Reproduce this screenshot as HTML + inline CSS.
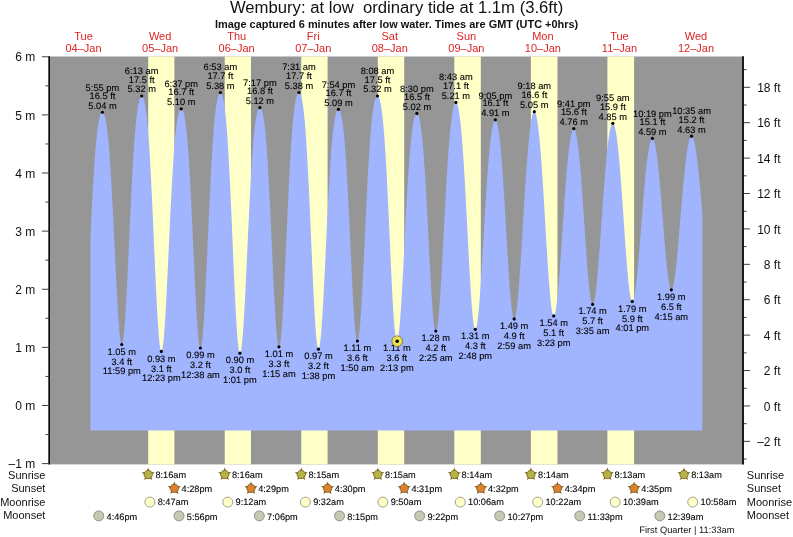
<!DOCTYPE html>
<html><head><meta charset="utf-8"><title>Wembury tide chart</title>
<style>
html,body{margin:0;padding:0;background:#fff;}
body{width:793px;height:537px;overflow:hidden;}
svg{display:block;will-change:transform;}
text{font-family:"Liberation Sans",Arial,Helvetica,sans-serif;fill:#111;}
.title{font-size:16px;white-space:pre;}
.sub{font-size:10px;font-weight:bold;}
.day{font-size:11px;fill:#dd2222;}
.ax{font-size:12px;}
.tl{font-size:9.3px;fill:#000;text-rendering:geometricPrecision;stroke:#000;stroke-width:0.1px;}
.ev{font-size:9.2px;fill:#000;text-rendering:geometricPrecision;stroke:#000;stroke-width:0.1px;}
.rl{font-size:11px;}
.fq{font-size:9.3px;text-rendering:geometricPrecision;}
</style></head><body>
<svg width="793" height="537" viewBox="0 0 793 537" xml:space="preserve">
<rect width="793" height="537" fill="#fff"/>
<rect x="49.5" y="56.5" width="693.0" height="407.9" fill="#969696"/>
<rect x="148.20" y="56.5" width="26.16" height="407.9" fill="#ffffc8"/>
<rect x="224.76" y="56.5" width="26.21" height="407.9" fill="#ffffc8"/>
<rect x="301.27" y="56.5" width="26.32" height="407.9" fill="#ffffc8"/>
<rect x="377.83" y="56.5" width="26.37" height="407.9" fill="#ffffc8"/>
<rect x="454.33" y="56.5" width="26.48" height="407.9" fill="#ffffc8"/>
<rect x="530.89" y="56.5" width="26.58" height="407.9" fill="#ffffc8"/>
<rect x="607.40" y="56.5" width="26.69" height="407.9" fill="#ffffc8"/>
<path d="M90.40,430.60 L90.40,236.96 L90.66,231.71 L90.91,226.50 L91.17,221.33 L91.42,216.23 L91.68,211.20 L91.93,206.26 L92.19,201.40 L92.44,196.64 L92.69,191.99 L92.95,187.45 L93.21,183.03 L93.46,178.74 L93.72,174.58 L93.97,170.55 L94.23,166.67 L94.48,162.92 L94.73,159.32 L94.99,155.87 L95.25,152.56 L95.50,149.41 L95.75,146.39 L96.01,143.53 L96.27,140.81 L96.52,138.24 L96.78,135.81 L97.03,133.52 L97.28,131.37 L97.54,129.35 L97.80,127.46 L98.05,125.71 L98.31,124.08 L98.56,122.57 L98.81,121.17 L99.07,119.90 L99.32,118.73 L99.58,117.67 L99.84,116.71 L100.09,115.86 L100.34,115.10 L100.60,114.44 L100.86,113.87 L101.11,113.39 L101.37,112.99 L101.62,112.69 L101.88,112.46 L102.13,112.33 L102.39,112.27 L102.64,112.30 L102.89,112.42 L103.15,112.63 L103.41,112.92 L103.66,113.31 L103.91,113.79 L104.17,114.36 L104.43,115.03 L104.68,115.80 L104.94,116.68 L105.19,117.65 L105.44,118.74 L105.70,119.95 L105.95,121.27 L106.21,122.71 L106.47,124.28 L106.72,125.97 L106.97,127.80 L107.23,129.77 L107.49,131.87 L107.74,134.12 L108.00,136.52 L108.25,139.06 L108.50,141.76 L108.76,144.61 L109.02,147.61 L109.27,150.77 L109.53,154.09 L109.78,157.56 L110.03,161.18 L110.29,164.96 L110.54,168.89 L110.80,172.97 L111.06,177.19 L111.31,181.54 L111.56,186.03 L111.82,190.65 L112.07,195.39 L112.33,200.24 L112.59,205.19 L112.84,210.24 L113.09,215.37 L113.35,220.58 L113.60,225.85 L113.86,231.17 L114.12,236.52 L114.37,241.90 L114.62,247.29 L114.88,252.68 L115.13,258.05 L115.39,263.39 L115.65,268.68 L115.90,273.91 L116.16,279.06 L116.41,284.11 L116.66,289.06 L116.92,293.88 L117.18,298.56 L117.43,303.09 L117.69,307.45 L117.94,311.62 L118.19,315.60 L118.45,319.37 L118.70,322.91 L118.96,326.22 L119.22,329.29 L119.47,332.09 L119.72,334.63 L119.98,336.90 L120.23,338.88 L120.49,340.57 L120.75,341.96 L121.00,343.05 L121.25,343.84 L121.51,344.32 L121.76,344.49 L122.02,344.35 L122.28,343.89 L122.53,343.12 L122.78,342.04 L123.04,340.66 L123.30,338.97 L123.55,336.99 L123.81,334.71 L124.06,332.16 L124.31,329.33 L124.57,326.24 L124.83,322.89 L125.08,319.30 L125.33,315.48 L125.59,311.44 L125.84,307.20 L126.10,302.76 L126.35,298.14 L126.61,293.35 L126.87,288.42 L127.12,283.35 L127.38,278.15 L127.63,272.86 L127.88,267.47 L128.14,262.01 L128.40,256.48 L128.65,250.92 L128.91,245.32 L129.16,239.71 L129.41,234.09 L129.67,228.49 L129.92,222.91 L130.18,217.37 L130.44,211.89 L130.69,206.46 L130.94,201.12 L131.20,195.85 L131.45,190.68 L131.71,185.62 L131.97,180.67 L132.22,175.83 L132.47,171.13 L132.73,166.56 L132.99,162.13 L133.24,157.84 L133.50,153.70 L133.75,149.71 L134.00,145.88 L134.26,142.20 L134.52,138.68 L134.77,135.31 L135.03,132.11 L135.28,129.06 L135.53,126.17 L135.79,123.43 L136.05,120.85 L136.30,118.41 L136.56,116.13 L136.81,113.98 L137.07,111.98 L137.32,110.12 L137.57,108.39 L137.83,106.79 L138.09,105.31 L138.34,103.96 L138.59,102.73 L138.85,101.61 L139.10,100.60 L139.36,99.70 L139.61,98.90 L139.87,98.21 L140.12,97.61 L140.38,97.11 L140.63,96.70 L140.89,96.38 L141.14,96.16 L141.40,96.02 L141.66,95.98 L141.91,96.02 L142.16,96.16 L142.42,96.39 L142.67,96.72 L142.93,97.14 L143.19,97.66 L143.44,98.29 L143.69,99.01 L143.95,99.85 L144.21,100.79 L144.46,101.84 L144.72,103.02 L144.97,104.31 L145.22,105.73 L145.48,107.27 L145.74,108.95 L145.99,110.77 L146.25,112.72 L146.50,114.83 L146.75,117.08 L147.01,119.48 L147.27,122.04 L147.52,124.75 L147.78,127.63 L148.03,130.67 L148.28,133.88 L148.54,137.25 L148.79,140.78 L149.05,144.48 L149.31,148.35 L149.56,152.38 L149.81,156.57 L150.07,160.92 L150.33,165.42 L150.58,170.08 L150.83,174.87 L151.09,179.81 L151.34,184.88 L151.60,190.07 L151.85,195.37 L152.11,200.78 L152.36,206.29 L152.62,211.88 L152.88,217.55 L153.13,223.27 L153.38,229.05 L153.64,234.86 L153.90,240.69 L154.15,246.52 L154.41,252.35 L154.66,258.15 L154.91,263.92 L155.17,269.63 L155.43,275.26 L155.68,280.81 L155.94,286.26 L156.19,291.59 L156.44,296.78 L156.70,301.82 L156.95,306.69 L157.21,311.38 L157.47,315.87 L157.72,320.15 L157.98,324.20 L158.23,328.02 L158.49,331.59 L158.74,334.89 L159.00,337.91 L159.25,340.66 L159.50,343.11 L159.76,345.26 L160.02,347.09 L160.27,348.62 L160.52,349.82 L160.78,350.70 L161.03,351.25 L161.29,351.47 L161.54,351.37 L161.80,350.96 L162.05,350.24 L162.31,349.23 L162.56,347.91 L162.82,346.30 L163.07,344.40 L163.33,342.21 L163.59,339.75 L163.84,337.02 L164.09,334.03 L164.35,330.79 L164.60,327.32 L164.86,323.61 L165.12,319.69 L165.37,315.57 L165.62,311.25 L165.88,306.76 L166.13,302.11 L166.39,297.31 L166.65,292.37 L166.90,287.31 L167.16,282.15 L167.41,276.90 L167.67,271.57 L167.92,266.19 L168.17,260.75 L168.43,255.29 L168.69,249.81 L168.94,244.33 L169.19,238.85 L169.45,233.40 L169.70,227.99 L169.96,222.63 L170.22,217.32 L170.47,212.09 L170.72,206.94 L170.98,201.88 L171.24,196.92 L171.49,192.07 L171.75,187.33 L172.00,182.72 L172.25,178.24 L172.51,173.90 L172.76,169.70 L173.02,165.63 L173.28,161.72 L173.53,157.96 L173.78,154.35 L174.04,150.89 L174.30,147.59 L174.55,144.44 L174.81,141.44 L175.06,138.60 L175.31,135.91 L175.57,133.37 L175.83,130.97 L176.08,128.72 L176.34,126.61 L176.59,124.64 L176.84,122.81 L177.10,121.10 L177.36,119.52 L177.61,118.07 L177.87,116.73 L178.12,115.51 L178.38,114.41 L178.63,113.41 L178.88,112.52 L179.14,111.73 L179.40,111.03 L179.65,110.44 L179.91,109.94 L180.16,109.53 L180.41,109.21 L180.67,108.98 L180.93,108.84 L181.18,108.78 L181.44,108.81 L181.69,108.94 L181.95,109.15 L182.20,109.47 L182.46,109.87 L182.71,110.37 L182.97,110.97 L183.22,111.68 L183.47,112.49 L183.73,113.40 L183.98,114.43 L184.24,115.57 L184.50,116.84 L184.75,118.22 L185.00,119.73 L185.26,121.38 L185.52,123.16 L185.77,125.08 L186.03,127.15 L186.28,129.36 L186.53,131.72 L186.79,134.24 L187.04,136.91 L187.30,139.74 L187.56,142.74 L187.81,145.89 L188.06,149.21 L188.32,152.69 L188.58,156.34 L188.83,160.14 L189.09,164.11 L189.34,168.23 L189.59,172.51 L189.85,176.93 L190.10,181.50 L190.36,186.20 L190.62,191.04 L190.87,196.00 L191.12,201.07 L191.38,206.25 L191.64,211.52 L191.89,216.88 L192.15,222.31 L192.40,227.81 L192.66,233.35 L192.91,238.92 L193.16,244.51 L193.42,250.11 L193.67,255.70 L193.93,261.27 L194.19,266.79 L194.44,272.26 L194.69,277.66 L194.95,282.96 L195.21,288.16 L195.46,293.24 L195.72,298.18 L195.97,302.97 L196.22,307.59 L196.48,312.02 L196.74,316.26 L196.99,320.28 L197.25,324.07 L197.50,327.62 L197.75,330.92 L198.01,333.96 L198.26,336.72 L198.52,339.20 L198.78,341.38 L199.03,343.26 L199.28,344.84 L199.54,346.10 L199.80,347.04 L200.05,347.66 L200.30,347.95 L200.56,347.93 L200.82,347.58 L201.07,346.91 L201.32,345.92 L201.58,344.62 L201.84,343.00 L202.09,341.09 L202.34,338.87 L202.60,336.36 L202.86,333.57 L203.11,330.50 L203.36,327.18 L203.62,323.59 L203.88,319.77 L204.13,315.72 L204.38,311.45 L204.64,306.97 L204.90,302.31 L205.15,297.47 L205.41,292.48 L205.66,287.33 L205.91,282.06 L206.17,276.67 L206.43,271.19 L206.68,265.62 L206.94,259.98 L207.19,254.29 L207.44,248.56 L207.70,242.81 L207.95,237.05 L208.21,231.30 L208.47,225.57 L208.72,219.87 L208.98,214.22 L209.23,208.63 L209.49,203.11 L209.74,197.67 L209.99,192.32 L210.25,187.08 L210.51,181.94 L210.76,176.93 L211.01,172.04 L211.27,167.29 L211.53,162.68 L211.78,158.21 L212.03,153.89 L212.29,149.72 L212.55,145.71 L212.80,141.86 L213.05,138.17 L213.31,134.64 L213.56,131.27 L213.82,128.07 L214.07,125.02 L214.33,122.13 L214.59,119.40 L214.84,116.83 L215.09,114.41 L215.35,112.13 L215.60,110.00 L215.86,108.02 L216.12,106.17 L216.37,104.46 L216.62,102.88 L216.88,101.43 L217.13,100.10 L217.39,98.89 L217.65,97.79 L217.90,96.81 L218.16,95.93 L218.41,95.16 L218.67,94.49 L218.92,93.92 L219.18,93.45 L219.43,93.07 L219.68,92.79 L219.94,92.60 L220.20,92.50 L220.45,92.49 L220.71,92.58 L220.96,92.76 L221.22,93.04 L221.47,93.42 L221.73,93.90 L221.98,94.49 L222.24,95.17 L222.49,95.97 L222.74,96.88 L223.00,97.90 L223.26,99.04 L223.51,100.30 L223.76,101.69 L224.02,103.21 L224.27,104.87 L224.53,106.66 L224.78,108.60 L225.04,110.68 L225.29,112.92 L225.55,115.31 L225.81,117.86 L226.06,120.58 L226.32,123.45 L226.57,126.50 L226.82,129.71 L227.08,133.09 L227.34,136.65 L227.59,140.38 L227.84,144.27 L228.10,148.34 L228.35,152.57 L228.61,156.97 L228.87,161.53 L229.12,166.24 L229.38,171.11 L229.63,176.12 L229.89,181.27 L230.14,186.55 L230.40,191.95 L230.65,197.46 L230.91,203.08 L231.16,208.79 L231.41,214.58 L231.67,220.43 L231.93,226.34 L232.18,232.29 L232.43,238.27 L232.69,244.26 L232.95,250.24 L233.20,256.21 L233.45,262.13 L233.71,268.01 L233.96,273.82 L234.22,279.54 L234.47,285.16 L234.73,290.66 L234.99,296.02 L235.24,301.23 L235.50,306.28 L235.75,311.14 L236.01,315.80 L236.26,320.24 L236.51,324.46 L236.77,328.43 L237.03,332.15 L237.28,335.59 L237.53,338.76 L237.79,341.64 L238.04,344.21 L238.30,346.48 L238.56,348.42 L238.81,350.05 L239.06,351.34 L239.32,352.30 L239.58,352.92 L239.83,353.20 L240.09,353.15 L240.34,352.79 L240.59,352.12 L240.85,351.15 L241.10,349.88 L241.36,348.31 L241.62,346.45 L241.87,344.31 L242.12,341.89 L242.38,339.19 L242.64,336.24 L242.89,333.03 L243.14,329.59 L243.40,325.91 L243.66,322.01 L243.91,317.91 L244.16,313.61 L244.42,309.13 L244.68,304.49 L244.93,299.69 L245.19,294.76 L245.44,289.70 L245.70,284.53 L245.95,279.27 L246.20,273.93 L246.46,268.52 L246.71,263.07 L246.97,257.57 L247.22,252.06 L247.48,246.54 L247.73,241.03 L247.99,235.53 L248.25,230.07 L248.50,224.65 L248.76,219.29 L249.01,214.00 L249.27,208.78 L249.52,203.65 L249.78,198.62 L250.03,193.70 L250.28,188.89 L250.54,184.20 L250.79,179.64 L251.05,175.22 L251.31,170.93 L251.56,166.78 L251.81,162.78 L252.07,158.93 L252.33,155.24 L252.58,151.69 L252.83,148.30 L253.09,145.06 L253.35,141.98 L253.60,139.05 L253.85,136.28 L254.11,133.65 L254.37,131.17 L254.62,128.84 L254.87,126.65 L255.13,124.60 L255.39,122.69 L255.64,120.91 L255.89,119.26 L256.15,117.73 L256.40,116.33 L256.66,115.04 L256.91,113.87 L257.17,112.81 L257.43,111.86 L257.68,111.01 L257.94,110.26 L258.19,109.61 L258.44,109.05 L258.70,108.59 L258.95,108.22 L259.21,107.94 L259.47,107.74 L259.72,107.64 L259.97,107.62 L260.23,107.69 L260.48,107.86 L260.74,108.12 L261.00,108.48 L261.25,108.93 L261.50,109.48 L261.76,110.14 L262.01,110.90 L262.27,111.77 L262.52,112.75 L262.78,113.84 L263.04,115.06 L263.29,116.40 L263.54,117.87 L263.80,119.46 L264.06,121.20 L264.31,123.07 L264.56,125.09 L264.82,127.26 L265.07,129.58 L265.33,132.06 L265.58,134.69 L265.84,137.48 L266.10,140.44 L266.35,143.56 L266.60,146.85 L266.86,150.31 L267.12,153.92 L267.37,157.71 L267.62,161.65 L267.88,165.76 L268.13,170.02 L268.39,174.44 L268.64,179.00 L268.90,183.71 L269.16,188.55 L269.41,193.52 L269.66,198.61 L269.92,203.80 L270.17,209.10 L270.43,214.48 L270.69,219.94 L270.94,225.47 L271.19,231.05 L271.45,236.66 L271.70,242.30 L271.96,247.95 L272.22,253.59 L272.47,259.21 L272.72,264.78 L272.98,270.31 L273.23,275.76 L273.49,281.12 L273.75,286.38 L274.00,291.52 L274.25,296.52 L274.51,301.36 L274.76,306.03 L275.02,310.52 L275.27,314.80 L275.53,318.87 L275.79,322.71 L276.04,326.31 L276.29,329.64 L276.55,332.71 L276.81,335.51 L277.06,338.01 L277.31,340.21 L277.57,342.11 L277.82,343.69 L278.08,344.96 L278.33,345.90 L278.59,346.51 L278.84,346.80 L279.10,346.75 L279.35,346.39 L279.61,345.71 L279.86,344.72 L280.12,343.41 L280.38,341.80 L280.63,339.89 L280.88,337.68 L281.14,335.18 L281.39,332.40 L281.65,329.35 L281.91,326.04 L282.16,322.48 L282.41,318.68 L282.67,314.65 L282.92,310.41 L283.18,305.97 L283.44,301.34 L283.69,296.54 L283.94,291.57 L284.20,286.47 L284.45,281.23 L284.71,275.89 L284.96,270.44 L285.22,264.91 L285.48,259.32 L285.73,253.67 L285.98,247.98 L286.24,242.27 L286.50,236.56 L286.75,230.85 L287.00,225.15 L287.26,219.50 L287.51,213.88 L287.77,208.33 L288.02,202.85 L288.28,197.44 L288.53,192.13 L288.79,186.92 L289.04,181.81 L289.30,176.83 L289.56,171.97 L289.81,167.24 L290.06,162.65 L290.32,158.21 L290.57,153.91 L290.83,149.76 L291.08,145.77 L291.34,141.93 L291.60,138.26 L291.85,134.74 L292.10,131.38 L292.36,128.18 L292.61,125.15 L292.87,122.26 L293.12,119.54 L293.38,116.97 L293.63,114.55 L293.89,112.27 L294.14,110.15 L294.40,108.16 L294.65,106.31 L294.91,104.60 L295.17,103.01 L295.42,101.56 L295.67,100.22 L295.93,99.00 L296.19,97.90 L296.44,96.91 L296.69,96.03 L296.95,95.25 L297.20,94.57 L297.46,93.99 L297.71,93.51 L297.97,93.12 L298.23,92.83 L298.48,92.62 L298.73,92.51 L298.99,92.49 L299.25,92.56 L299.50,92.72 L299.75,92.99 L300.01,93.35 L300.26,93.81 L300.52,94.37 L300.77,95.03 L301.03,95.80 L301.29,96.68 L301.54,97.68 L301.79,98.79 L302.05,100.02 L302.30,101.37 L302.56,102.86 L302.81,104.48 L303.07,106.23 L303.32,108.13 L303.58,110.17 L303.83,112.36 L304.09,114.70 L304.34,117.21 L304.60,119.87 L304.85,122.69 L305.11,125.68 L305.36,128.84 L305.62,132.17 L305.88,135.66 L306.13,139.32 L306.38,143.16 L306.64,147.16 L306.89,151.32 L307.15,155.65 L307.40,160.14 L307.66,164.78 L307.91,169.58 L308.17,174.51 L308.42,179.59 L308.68,184.79 L308.94,190.12 L309.19,195.56 L309.44,201.10 L309.70,206.73 L309.95,212.44 L310.21,218.22 L310.46,224.05 L310.72,229.92 L310.97,235.82 L311.23,241.73 L311.48,247.64 L311.74,253.52 L311.99,259.37 L312.25,265.18 L312.50,270.91 L312.76,276.56 L313.01,282.10 L313.27,287.53 L313.52,292.83 L313.78,297.98 L314.04,302.95 L314.29,307.75 L314.54,312.35 L314.80,316.73 L315.05,320.89 L315.31,324.81 L315.56,328.47 L315.82,331.87 L316.07,334.99 L316.33,337.82 L316.58,340.35 L316.84,342.58 L317.09,344.49 L317.35,346.08 L317.60,347.34 L317.86,348.27 L318.11,348.87 L318.37,349.13 L318.62,349.07 L318.88,348.70 L319.13,348.03 L319.39,347.07 L319.64,345.82 L319.90,344.27 L320.15,342.44 L320.41,340.33 L320.66,337.95 L320.92,335.31 L321.17,332.42 L321.43,329.27 L321.68,325.90 L321.94,322.30 L322.19,318.48 L322.45,314.46 L322.70,310.26 L322.96,305.88 L323.21,301.34 L323.47,296.65 L323.73,291.82 L323.98,286.88 L324.23,281.83 L324.49,276.69 L324.74,271.47 L325.00,266.19 L325.25,260.86 L325.51,255.50 L325.76,250.11 L326.02,244.72 L326.27,239.34 L326.53,233.98 L326.78,228.65 L327.04,223.36 L327.29,218.13 L327.55,212.96 L327.80,207.88 L328.06,202.88 L328.31,197.97 L328.57,193.17 L328.82,188.48 L329.08,183.91 L329.33,179.46 L329.59,175.15 L329.84,170.97 L330.10,166.93 L330.35,163.03 L330.61,159.28 L330.86,155.68 L331.12,152.22 L331.38,148.92 L331.63,145.77 L331.88,142.77 L332.14,139.91 L332.39,137.21 L332.65,134.65 L332.90,132.24 L333.16,129.97 L333.42,127.84 L333.67,125.85 L333.92,123.99 L334.18,122.25 L334.43,120.65 L334.69,119.17 L334.94,117.80 L335.20,116.55 L335.45,115.41 L335.71,114.38 L335.96,113.46 L336.22,112.63 L336.47,111.91 L336.73,111.28 L336.98,110.74 L337.24,110.29 L337.49,109.94 L337.75,109.66 L338.00,109.48 L338.26,109.38 L338.51,109.37 L338.77,109.44 L339.02,109.61 L339.28,109.87 L339.53,110.22 L339.79,110.67 L340.05,111.22 L340.30,111.87 L340.55,112.62 L340.81,113.48 L341.06,114.44 L341.32,115.52 L341.57,116.72 L341.83,118.04 L342.08,119.48 L342.34,121.06 L342.59,122.76 L342.85,124.61 L343.10,126.60 L343.36,128.73 L343.61,131.02 L343.87,133.45 L344.12,136.04 L344.38,138.79 L344.63,141.70 L344.89,144.77 L345.14,148.01 L345.40,151.40 L345.65,154.96 L345.91,158.68 L346.17,162.56 L346.42,166.59 L346.67,170.78 L346.93,175.11 L347.18,179.59 L347.44,184.20 L347.69,188.95 L347.95,193.82 L348.20,198.80 L348.46,203.89 L348.71,209.07 L348.97,214.34 L349.22,219.67 L349.48,225.07 L349.73,230.51 L349.99,235.99 L350.24,241.49 L350.50,246.98 L350.75,252.47 L351.01,257.93 L351.26,263.35 L351.52,268.70 L351.77,273.99 L352.03,279.18 L352.28,284.26 L352.54,289.21 L352.79,294.03 L353.05,298.68 L353.30,303.17 L353.56,307.46 L353.81,311.56 L354.07,315.43 L354.32,319.08 L354.58,322.48 L354.83,325.62 L355.09,328.50 L355.34,331.10 L355.60,333.42 L355.85,335.43 L356.11,337.15 L356.36,338.55 L356.62,339.64 L356.88,340.42 L357.13,340.87 L357.38,341.00 L357.64,340.81 L357.89,340.33 L358.15,339.54 L358.40,338.45 L358.66,337.07 L358.91,335.40 L359.17,333.44 L359.42,331.20 L359.68,328.69 L359.93,325.92 L360.19,322.90 L360.44,319.63 L360.70,316.12 L360.95,312.39 L361.21,308.45 L361.46,304.31 L361.72,299.98 L361.97,295.48 L362.23,290.82 L362.48,286.02 L362.74,281.08 L362.99,276.02 L363.25,270.86 L363.50,265.62 L363.76,260.29 L364.01,254.91 L364.27,249.49 L364.52,244.03 L364.78,238.55 L365.03,233.08 L365.29,227.61 L365.54,222.16 L365.80,216.75 L366.05,211.39 L366.31,206.09 L366.56,200.85 L366.82,195.69 L367.07,190.63 L367.33,185.66 L367.58,180.80 L367.84,176.05 L368.09,171.43 L368.35,166.93 L368.60,162.56 L368.86,158.33 L369.11,154.25 L369.37,150.30 L369.62,146.51 L369.88,142.87 L370.13,139.38 L370.39,136.04 L370.64,132.85 L370.90,129.81 L371.15,126.93 L371.41,124.19 L371.66,121.61 L371.92,119.17 L372.18,116.87 L372.43,114.72 L372.68,112.70 L372.94,110.81 L373.19,109.06 L373.45,107.44 L373.70,105.93 L373.96,104.55 L374.21,103.29 L374.47,102.13 L374.72,101.09 L374.98,100.15 L375.23,99.31 L375.49,98.58 L375.74,97.93 L376.00,97.39 L376.25,96.93 L376.51,96.57 L376.76,96.29 L377.02,96.10 L377.27,96.00 L377.53,95.98 L377.78,96.05 L378.04,96.22 L378.29,96.48 L378.55,96.83 L378.80,97.28 L379.06,97.82 L379.31,98.47 L379.57,99.22 L379.82,100.08 L380.08,101.04 L380.33,102.12 L380.59,103.31 L380.84,104.63 L381.10,106.07 L381.35,107.64 L381.61,109.34 L381.87,111.18 L382.12,113.16 L382.37,115.29 L382.63,117.56 L382.88,119.99 L383.14,122.57 L383.39,125.31 L383.65,128.21 L383.90,131.27 L384.16,134.49 L384.41,137.88 L384.67,141.43 L384.92,145.14 L385.18,149.02 L385.43,153.05 L385.69,157.24 L385.94,161.58 L386.20,166.07 L386.45,170.71 L386.71,175.48 L386.96,180.39 L387.22,185.41 L387.47,190.55 L387.73,195.80 L387.98,201.14 L388.24,206.57 L388.49,212.07 L388.75,217.63 L389.00,223.24 L389.26,228.89 L389.51,234.56 L389.77,240.23 L390.02,245.89 L390.28,251.54 L390.53,257.14 L390.79,262.69 L391.04,268.16 L391.30,273.55 L391.56,278.84 L391.81,284.01 L392.06,289.04 L392.32,293.92 L392.57,298.64 L392.83,303.17 L393.08,307.51 L393.34,311.64 L393.59,315.54 L393.85,319.20 L394.10,322.62 L394.36,325.77 L394.61,328.65 L394.87,331.25 L395.12,333.55 L395.38,335.56 L395.63,337.26 L395.89,338.65 L396.14,339.72 L396.40,340.47 L396.65,340.89 L396.91,340.99 L397.17,340.80 L397.42,340.34 L397.67,339.60 L397.93,338.59 L398.18,337.31 L398.44,335.77 L398.69,333.97 L398.95,331.92 L399.20,329.62 L399.46,327.09 L399.72,324.32 L399.97,321.33 L400.22,318.12 L400.48,314.72 L400.73,311.12 L400.99,307.34 L401.25,303.38 L401.50,299.27 L401.75,295.01 L402.01,290.62 L402.26,286.11 L402.52,281.49 L402.77,276.77 L403.03,271.97 L403.28,267.09 L403.54,262.17 L403.79,257.19 L404.05,252.19 L404.31,247.17 L404.56,242.14 L404.81,237.11 L405.07,232.10 L405.32,227.12 L405.58,222.18 L405.83,217.29 L406.09,212.46 L406.34,207.69 L406.60,203.00 L406.86,198.40 L407.11,193.89 L407.37,189.48 L407.62,185.18 L407.87,180.98 L408.13,176.91 L408.38,172.96 L408.64,169.13 L408.89,165.43 L409.15,161.86 L409.41,158.43 L409.66,155.14 L409.91,151.98 L410.17,148.96 L410.42,146.07 L410.68,143.33 L410.94,140.72 L411.19,138.24 L411.44,135.90 L411.70,133.70 L411.95,131.62 L412.21,129.67 L412.46,127.84 L412.72,126.14 L412.97,124.56 L413.23,123.10 L413.48,121.75 L413.74,120.51 L414.00,119.38 L414.25,118.36 L414.50,117.44 L414.76,116.62 L415.01,115.89 L415.27,115.27 L415.52,114.74 L415.78,114.30 L416.03,113.95 L416.29,113.69 L416.55,113.52 L416.80,113.44 L417.06,113.45 L417.31,113.57 L417.56,113.79 L417.82,114.11 L418.07,114.55 L418.33,115.09 L418.58,115.74 L418.84,116.50 L419.10,117.37 L419.35,118.36 L419.60,119.47 L419.86,120.70 L420.11,122.05 L420.37,123.52 L420.62,125.13 L420.88,126.86 L421.13,128.72 L421.39,130.72 L421.64,132.86 L421.90,135.13 L422.15,137.55 L422.41,140.11 L422.66,142.81 L422.92,145.65 L423.17,148.64 L423.43,151.77 L423.69,155.04 L423.94,158.46 L424.19,162.01 L424.45,165.71 L424.70,169.53 L424.96,173.49 L425.21,177.57 L425.47,181.78 L425.72,186.10 L425.98,190.53 L426.24,195.06 L426.49,199.69 L426.75,204.40 L427.00,209.19 L427.25,214.05 L427.51,218.96 L427.76,223.92 L428.02,228.92 L428.27,233.93 L428.53,238.96 L428.79,243.99 L429.04,249.00 L429.30,253.99 L429.55,258.93 L429.80,263.82 L430.06,268.63 L430.31,273.36 L430.57,278.00 L430.82,282.52 L431.08,286.92 L431.33,291.17 L431.59,295.28 L431.85,299.22 L432.10,302.97 L432.35,306.54 L432.61,309.90 L432.86,313.05 L433.12,315.98 L433.38,318.67 L433.63,321.12 L433.88,323.31 L434.14,325.24 L434.39,326.91 L434.65,328.30 L434.90,329.42 L435.16,330.26 L435.41,330.81 L435.67,331.08 L435.92,331.06 L436.18,330.79 L436.44,330.26 L436.69,329.47 L436.94,328.43 L437.20,327.15 L437.45,325.62 L437.71,323.84 L437.96,321.84 L438.22,319.60 L438.47,317.14 L438.73,314.47 L438.99,311.58 L439.24,308.50 L439.49,305.23 L439.75,301.77 L440.00,298.14 L440.26,294.35 L440.51,290.41 L440.77,286.33 L441.02,282.11 L441.28,277.78 L441.54,273.34 L441.79,268.81 L442.04,264.19 L442.30,259.50 L442.55,254.75 L442.81,249.94 L443.06,245.10 L443.32,240.23 L443.57,235.35 L443.83,230.46 L444.08,225.57 L444.34,220.70 L444.59,215.86 L444.85,211.05 L445.10,206.28 L445.36,201.57 L445.61,196.92 L445.87,192.33 L446.12,187.83 L446.38,183.40 L446.64,179.07 L446.89,174.83 L447.14,170.69 L447.40,166.66 L447.65,162.74 L447.91,158.94 L448.16,155.25 L448.42,151.68 L448.68,148.24 L448.93,144.92 L449.19,141.73 L449.44,138.66 L449.69,135.73 L449.95,132.92 L450.20,130.25 L450.46,127.71 L450.71,125.29 L450.97,123.01 L451.23,120.85 L451.48,118.82 L451.73,116.91 L451.99,115.13 L452.24,113.48 L452.50,111.94 L452.75,110.52 L453.01,109.23 L453.26,108.05 L453.52,106.98 L453.77,106.03 L454.03,105.19 L454.28,104.46 L454.54,103.85 L454.79,103.34 L455.05,102.94 L455.30,102.65 L455.56,102.46 L455.81,102.38 L456.07,102.41 L456.32,102.57 L456.58,102.85 L456.83,103.25 L457.09,103.78 L457.34,104.43 L457.60,105.21 L457.85,106.11 L458.11,107.15 L458.37,108.31 L458.62,109.60 L458.88,111.02 L459.13,112.57 L459.38,114.26 L459.64,116.07 L459.89,118.03 L460.15,120.11 L460.40,122.34 L460.66,124.70 L460.92,127.20 L461.17,129.83 L461.43,132.60 L461.68,135.51 L461.93,138.55 L462.19,141.72 L462.44,145.03 L462.70,148.47 L462.95,152.04 L463.21,155.73 L463.46,159.55 L463.72,163.49 L463.98,167.54 L464.23,171.70 L464.48,175.97 L464.74,180.33 L464.99,184.79 L465.25,189.34 L465.50,193.97 L465.76,198.67 L466.01,203.43 L466.27,208.25 L466.52,213.11 L466.78,218.02 L467.03,222.95 L467.29,227.90 L467.54,232.85 L467.80,237.80 L468.05,242.73 L468.31,247.64 L468.56,252.51 L468.82,257.33 L469.07,262.09 L469.33,266.77 L469.58,271.37 L469.84,275.87 L470.09,280.26 L470.35,284.53 L470.61,288.66 L470.86,292.65 L471.12,296.49 L471.37,300.15 L471.62,303.65 L471.88,306.95 L472.13,310.06 L472.39,312.96 L472.64,315.65 L472.90,318.12 L473.15,320.36 L473.41,322.36 L473.67,324.12 L473.92,325.63 L474.17,326.89 L474.43,327.89 L474.68,328.64 L474.94,329.12 L475.19,329.34 L475.45,329.31 L475.70,329.05 L475.96,328.58 L476.21,327.89 L476.47,326.98 L476.72,325.85 L476.98,324.52 L477.23,322.98 L477.49,321.23 L477.74,319.29 L478.00,317.15 L478.25,314.83 L478.51,312.33 L478.77,309.65 L479.02,306.80 L479.27,303.79 L479.53,300.64 L479.78,297.33 L480.04,293.89 L480.30,290.33 L480.55,286.64 L480.81,282.85 L481.06,278.96 L481.31,274.97 L481.57,270.91 L481.82,266.77 L482.08,262.57 L482.33,258.32 L482.59,254.03 L482.84,249.70 L483.10,245.34 L483.36,240.97 L483.61,236.60 L483.86,232.22 L484.12,227.86 L484.37,223.51 L484.63,219.19 L484.88,214.91 L485.14,210.67 L485.39,206.47 L485.65,202.33 L485.90,198.26 L486.16,194.25 L486.41,190.31 L486.67,186.46 L486.92,182.68 L487.18,179.00 L487.43,175.41 L487.69,171.91 L487.94,168.52 L488.20,165.23 L488.46,162.04 L488.71,158.96 L488.96,156.00 L489.22,153.14 L489.47,150.40 L489.73,147.78 L489.99,145.27 L490.24,142.88 L490.50,140.61 L490.75,138.46 L491.00,136.43 L491.26,134.51 L491.51,132.71 L491.77,131.04 L492.02,129.48 L492.28,128.04 L492.53,126.72 L492.79,125.51 L493.05,124.42 L493.30,123.45 L493.55,122.60 L493.81,121.86 L494.06,121.24 L494.32,120.73 L494.57,120.33 L494.83,120.05 L495.08,119.89 L495.34,119.84 L495.59,119.91 L495.85,120.11 L496.11,120.45 L496.36,120.91 L496.61,121.51 L496.87,122.24 L497.12,123.10 L497.38,124.09 L497.63,125.21 L497.89,126.47 L498.15,127.85 L498.40,129.37 L498.65,131.02 L498.91,132.80 L499.16,134.71 L499.42,136.75 L499.68,138.92 L499.93,141.22 L500.18,143.65 L500.44,146.20 L500.69,148.88 L500.95,151.69 L501.20,154.61 L501.46,157.66 L501.71,160.82 L501.97,164.09 L502.22,167.47 L502.48,170.97 L502.74,174.56 L502.99,178.25 L503.25,182.03 L503.50,185.90 L503.75,189.86 L504.01,193.89 L504.26,197.99 L504.52,202.15 L504.77,206.37 L505.03,210.63 L505.28,214.94 L505.54,219.28 L505.80,223.64 L506.05,228.02 L506.30,232.40 L506.56,236.78 L506.81,241.14 L507.07,245.48 L507.32,249.79 L507.58,254.06 L507.84,258.27 L508.09,262.42 L508.34,266.49 L508.60,270.48 L508.85,274.37 L509.11,278.16 L509.36,281.83 L509.62,285.38 L509.87,288.80 L510.13,292.07 L510.38,295.19 L510.64,298.15 L510.89,300.94 L511.15,303.55 L511.40,305.98 L511.66,308.21 L511.91,310.25 L512.17,312.08 L512.43,313.70 L512.68,315.11 L512.94,316.30 L513.19,317.27 L513.45,318.01 L513.70,318.53 L513.96,318.82 L514.21,318.88 L514.47,318.72 L514.72,318.37 L514.98,317.82 L515.23,317.06 L515.49,316.11 L515.74,314.96 L516.00,313.61 L516.25,312.08 L516.50,310.36 L516.76,308.46 L517.01,306.39 L517.27,304.14 L517.53,301.72 L517.78,299.15 L518.03,296.42 L518.29,293.54 L518.54,290.52 L518.80,287.36 L519.05,284.08 L519.31,280.68 L519.56,277.16 L519.82,273.55 L520.08,269.83 L520.33,266.03 L520.59,262.15 L520.84,258.20 L521.09,254.18 L521.35,250.11 L521.61,245.99 L521.86,241.84 L522.12,237.65 L522.37,233.44 L522.62,229.22 L522.88,224.99 L523.13,220.77 L523.39,216.55 L523.64,212.35 L523.90,208.17 L524.15,204.03 L524.41,199.92 L524.66,195.85 L524.92,191.84 L525.18,187.88 L525.43,183.98 L525.68,180.15 L525.94,176.39 L526.19,172.71 L526.45,169.11 L526.71,165.59 L526.96,162.17 L527.22,158.83 L527.47,155.60 L527.73,152.46 L527.98,149.43 L528.24,146.51 L528.49,143.69 L528.75,140.98 L529.00,138.38 L529.25,135.90 L529.51,133.54 L529.76,131.29 L530.02,129.16 L530.28,127.15 L530.53,125.26 L530.78,123.49 L531.04,121.84 L531.29,120.32 L531.55,118.92 L531.81,117.64 L532.06,116.49 L532.31,115.46 L532.57,114.55 L532.83,113.77 L533.08,113.11 L533.34,112.58 L533.59,112.17 L533.85,111.89 L534.10,111.73 L534.36,111.69 L534.61,111.79 L534.87,112.02 L535.12,112.39 L535.38,112.89 L535.63,113.52 L535.88,114.29 L536.14,115.19 L536.39,116.22 L536.65,117.39 L536.90,118.68 L537.16,120.11 L537.41,121.68 L537.67,123.37 L537.93,125.19 L538.18,127.15 L538.43,129.23 L538.69,131.44 L538.94,133.77 L539.20,136.23 L539.46,138.81 L539.71,141.52 L539.97,144.34 L540.22,147.28 L540.48,150.33 L540.73,153.49 L540.99,156.76 L541.24,160.13 L541.50,163.60 L541.75,167.17 L542.00,170.84 L542.26,174.59 L542.51,178.42 L542.77,182.32 L543.02,186.30 L543.28,190.35 L543.53,194.45 L543.79,198.61 L544.04,202.81 L544.30,207.06 L544.56,211.33 L544.81,215.63 L545.07,219.94 L545.32,224.26 L545.57,228.58 L545.83,232.89 L546.09,237.18 L546.34,241.45 L546.60,245.68 L546.85,249.87 L547.11,254.01 L547.36,258.08 L547.62,262.08 L547.87,266.00 L548.12,269.83 L548.38,273.56 L548.63,277.19 L548.89,280.70 L549.14,284.08 L549.40,287.33 L549.66,290.45 L549.91,293.41 L550.16,296.22 L550.42,298.86 L550.67,301.34 L550.93,303.64 L551.19,305.76 L551.44,307.69 L551.69,309.42 L551.95,310.97 L552.21,312.31 L552.46,313.44 L552.72,314.37 L552.97,315.09 L553.22,315.60 L553.48,315.89 L553.74,315.97 L553.99,315.86 L554.25,315.56 L554.50,315.08 L554.75,314.43 L555.01,313.59 L555.26,312.58 L555.52,311.40 L555.77,310.04 L556.03,308.52 L556.28,306.83 L556.54,304.99 L556.79,302.99 L557.05,300.83 L557.30,298.54 L557.56,296.10 L557.81,293.53 L558.07,290.82 L558.32,288.00 L558.58,285.06 L558.83,282.01 L559.09,278.86 L559.35,275.62 L559.60,272.28 L559.86,268.87 L560.11,265.38 L560.36,261.83 L560.62,258.21 L560.88,254.55 L561.13,250.84 L561.38,247.09 L561.64,243.31 L561.89,239.51 L562.15,235.70 L562.40,231.88 L562.66,228.06 L562.91,224.24 L563.17,220.44 L563.42,216.66 L563.68,212.90 L563.93,209.17 L564.19,205.48 L564.44,201.83 L564.70,198.23 L564.96,194.69 L565.21,191.20 L565.46,187.78 L565.72,184.42 L565.98,181.14 L566.23,177.93 L566.49,174.81 L566.74,171.76 L567.00,168.81 L567.25,165.94 L567.50,163.16 L567.76,160.48 L568.01,157.90 L568.27,155.42 L568.52,153.04 L568.78,150.76 L569.03,148.59 L569.29,146.53 L569.54,144.57 L569.80,142.73 L570.05,140.99 L570.31,139.36 L570.56,137.85 L570.82,136.45 L571.07,135.16 L571.33,133.99 L571.58,132.93 L571.84,131.98 L572.10,131.15 L572.35,130.44 L572.61,129.84 L572.86,129.35 L573.11,128.99 L573.37,128.73 L573.62,128.60 L573.88,128.57 L574.13,128.68 L574.39,128.90 L574.64,129.25 L574.90,129.73 L575.15,130.33 L575.41,131.06 L575.66,131.91 L575.92,132.88 L576.17,133.98 L576.43,135.20 L576.68,136.54 L576.94,138.00 L577.20,139.59 L577.45,141.29 L577.70,143.12 L577.96,145.06 L578.21,147.11 L578.47,149.29 L578.73,151.57 L578.98,153.97 L579.24,156.47 L579.49,159.08 L579.75,161.79 L580.00,164.61 L580.25,167.52 L580.51,170.53 L580.76,173.62 L581.02,176.81 L581.27,180.07 L581.53,183.42 L581.78,186.83 L582.04,190.32 L582.29,193.86 L582.55,197.47 L582.80,201.12 L583.06,204.82 L583.31,208.56 L583.57,212.33 L583.82,216.12 L584.08,219.93 L584.33,223.75 L584.59,227.57 L584.84,231.39 L585.10,235.19 L585.35,238.97 L585.61,242.72 L585.86,246.43 L586.12,250.10 L586.38,253.71 L586.63,257.26 L586.88,260.73 L587.14,264.13 L587.39,267.43 L587.65,270.65 L587.90,273.75 L588.16,276.74 L588.41,279.62 L588.67,282.37 L588.92,284.98 L589.18,287.45 L589.43,289.77 L589.69,291.94 L589.94,293.95 L590.20,295.80 L590.45,297.47 L590.71,298.97 L590.96,300.29 L591.22,301.43 L591.48,302.39 L591.73,303.16 L591.99,303.73 L592.24,304.12 L592.49,304.31 L592.75,304.31 L593.00,304.14 L593.26,303.79 L593.51,303.28 L593.77,302.60 L594.02,301.74 L594.28,300.73 L594.53,299.55 L594.79,298.21 L595.04,296.71 L595.30,295.06 L595.55,293.26 L595.81,291.31 L596.06,289.22 L596.32,287.00 L596.57,284.64 L596.83,282.16 L597.09,279.56 L597.34,276.84 L597.59,274.02 L597.85,271.09 L598.11,268.07 L598.36,264.95 L598.62,261.75 L598.87,258.48 L599.12,255.14 L599.38,251.73 L599.63,248.27 L599.89,244.76 L600.14,241.21 L600.40,237.62 L600.65,234.01 L600.91,230.37 L601.16,226.72 L601.42,223.06 L601.67,219.40 L601.93,215.74 L602.18,212.10 L602.44,208.47 L602.69,204.86 L602.95,201.29 L603.20,197.75 L603.46,194.24 L603.71,190.79 L603.97,187.38 L604.23,184.03 L604.48,180.73 L604.74,177.50 L604.99,174.34 L605.24,171.25 L605.50,168.23 L605.75,165.30 L606.01,162.44 L606.26,159.67 L606.52,156.99 L606.77,154.39 L607.03,151.90 L607.28,149.49 L607.54,147.18 L607.79,144.98 L608.05,142.87 L608.30,140.86 L608.56,138.96 L608.81,137.17 L609.07,135.48 L609.33,133.89 L609.58,132.42 L609.83,131.05 L610.09,129.80 L610.34,128.65 L610.60,127.61 L610.86,126.69 L611.11,125.88 L611.37,125.18 L611.62,124.59 L611.88,124.11 L612.13,123.75 L612.38,123.50 L612.64,123.36 L612.89,123.33 L613.15,123.43 L613.41,123.64 L613.66,123.98 L613.91,124.44 L614.17,125.01 L614.42,125.71 L614.68,126.53 L614.94,127.46 L615.19,128.52 L615.44,129.69 L615.70,130.98 L615.95,132.39 L616.21,133.91 L616.47,135.55 L616.72,137.31 L616.97,139.17 L617.23,141.15 L617.48,143.24 L617.74,145.43 L618.00,147.74 L618.25,150.14 L618.50,152.65 L618.76,155.26 L619.01,157.96 L619.27,160.76 L619.52,163.65 L619.78,166.63 L620.03,169.69 L620.29,172.83 L620.54,176.05 L620.80,179.34 L621.06,182.70 L621.31,186.12 L621.56,189.60 L621.82,193.13 L622.07,196.70 L622.33,200.32 L622.59,203.98 L622.84,207.66 L623.09,211.37 L623.35,215.09 L623.60,218.82 L623.86,222.56 L624.12,226.29 L624.37,230.01 L624.62,233.71 L624.88,237.38 L625.13,241.02 L625.39,244.62 L625.64,248.17 L625.90,251.67 L626.15,255.10 L626.41,258.46 L626.66,261.75 L626.92,264.94 L627.17,268.05 L627.43,271.05 L627.68,273.95 L627.94,276.73 L628.19,279.39 L628.45,281.93 L628.71,284.33 L628.96,286.60 L629.22,288.72 L629.47,290.69 L629.72,292.51 L629.98,294.17 L630.24,295.67 L630.49,297.00 L630.75,298.16 L631.00,299.14 L631.25,299.96 L631.51,300.59 L631.76,301.05 L632.02,301.33 L632.27,301.42 L632.53,301.35 L632.78,301.12 L633.04,300.74 L633.29,300.21 L633.55,299.53 L633.80,298.70 L634.06,297.71 L634.32,296.59 L634.57,295.32 L634.82,293.91 L635.08,292.36 L635.33,290.69 L635.59,288.88 L635.85,286.94 L636.10,284.89 L636.36,282.72 L636.61,280.44 L636.86,278.05 L637.12,275.56 L637.38,272.98 L637.63,270.30 L637.88,267.54 L638.14,264.71 L638.39,261.80 L638.65,258.82 L638.90,255.78 L639.16,252.69 L639.41,249.55 L639.67,246.37 L639.92,243.15 L640.18,239.91 L640.44,236.64 L640.69,233.35 L640.94,230.05 L641.20,226.75 L641.45,223.44 L641.71,220.15 L641.97,216.86 L642.22,213.59 L642.47,210.35 L642.73,207.13 L642.98,203.94 L643.24,200.79 L643.50,197.69 L643.75,194.63 L644.00,191.62 L644.26,188.66 L644.51,185.77 L644.77,182.93 L645.02,180.17 L645.28,177.47 L645.53,174.84 L645.79,172.29 L646.04,169.82 L646.30,167.43 L646.55,165.12 L646.81,162.90 L647.06,160.77 L647.32,158.72 L647.57,156.77 L647.83,154.91 L648.09,153.14 L648.34,151.47 L648.60,149.90 L648.85,148.42 L649.10,147.04 L649.36,145.77 L649.62,144.59 L649.87,143.52 L650.12,142.55 L650.38,141.68 L650.63,140.91 L650.89,140.25 L651.14,139.69 L651.40,139.24 L651.65,138.89 L651.91,138.64 L652.16,138.50 L652.42,138.46 L652.67,138.54 L652.93,138.72 L653.18,139.01 L653.44,139.42 L653.69,139.93 L653.95,140.56 L654.20,141.29 L654.46,142.13 L654.71,143.08 L654.97,144.14 L655.22,145.31 L655.48,146.58 L655.74,147.96 L655.99,149.44 L656.25,151.02 L656.50,152.71 L656.75,154.50 L657.01,156.38 L657.26,158.36 L657.52,160.44 L657.77,162.61 L658.03,164.86 L658.29,167.21 L658.54,169.64 L658.79,172.15 L659.05,174.74 L659.30,177.41 L659.56,180.15 L659.81,182.96 L660.07,185.83 L660.32,188.76 L660.58,191.75 L660.83,194.78 L661.09,197.87 L661.35,200.99 L661.60,204.15 L661.85,207.34 L662.11,210.56 L662.36,213.79 L662.62,217.03 L662.88,220.29 L663.13,223.54 L663.38,226.79 L663.64,230.02 L663.89,233.24 L664.15,236.43 L664.40,239.58 L664.66,242.70 L664.91,245.77 L665.17,248.78 L665.42,251.74 L665.68,254.63 L665.93,257.45 L666.19,260.19 L666.44,262.84 L666.70,265.40 L666.95,267.86 L667.21,270.21 L667.47,272.45 L667.72,274.58 L667.98,276.59 L668.23,278.47 L668.48,280.22 L668.74,281.83 L668.99,283.31 L669.25,284.64 L669.50,285.82 L669.76,286.85 L670.01,287.73 L670.27,288.46 L670.52,289.03 L670.78,289.44 L671.03,289.69 L671.29,289.78 L671.54,289.72 L671.80,289.52 L672.05,289.17 L672.31,288.69 L672.56,288.06 L672.82,287.30 L673.07,286.40 L673.33,285.37 L673.58,284.21 L673.84,282.91 L674.09,281.49 L674.35,279.95 L674.60,278.28 L674.86,276.50 L675.11,274.61 L675.37,272.61 L675.62,270.51 L675.88,268.30 L676.13,266.00 L676.39,263.62 L676.64,261.14 L676.90,258.59 L677.15,255.96 L677.41,253.27 L677.67,250.51 L677.92,247.69 L678.17,244.82 L678.43,241.90 L678.68,238.95 L678.94,235.95 L679.19,232.93 L679.45,229.88 L679.70,226.81 L679.96,223.73 L680.21,220.64 L680.47,217.55 L680.73,214.47 L680.98,211.38 L681.23,208.32 L681.49,205.27 L681.74,202.24 L682.00,199.24 L682.25,196.27 L682.51,193.34 L682.76,190.45 L683.02,187.60 L683.27,184.80 L683.53,182.06 L683.78,179.37 L684.04,176.74 L684.29,174.17 L684.55,171.67 L684.80,169.23 L685.06,166.87 L685.31,164.58 L685.57,162.37 L685.82,160.23 L686.08,158.18 L686.33,156.21 L686.59,154.32 L686.85,152.52 L687.10,150.81 L687.36,149.19 L687.61,147.65 L687.86,146.21 L688.12,144.86 L688.37,143.61 L688.63,142.45 L688.88,141.39 L689.14,140.42 L689.39,139.55 L689.65,138.78 L689.90,138.11 L690.16,137.53 L690.41,137.05 L690.67,136.68 L690.92,136.40 L691.18,136.22 L691.43,136.14 L691.69,136.16 L691.94,136.28 L692.20,136.49 L692.45,136.81 L692.71,137.22 L692.97,137.72 L693.22,138.33 L693.48,139.03 L693.73,139.83 L693.98,140.72 L694.24,141.71 L694.49,142.79 L694.75,143.97 L695.00,145.23 L695.26,146.59 L695.51,148.04 L695.77,149.58 L696.02,151.21 L696.28,152.92 L696.53,154.72 L696.79,156.60 L697.04,158.56 L697.30,160.60 L697.55,162.72 L697.81,164.91 L698.06,167.18 L698.32,169.51 L698.57,171.92 L698.83,174.38 L699.08,176.91 L699.34,179.50 L699.59,182.14 L699.85,184.83 L700.11,187.57 L700.36,190.36 L700.61,193.18 L700.87,196.04 L701.12,198.93 L701.38,201.85 L701.63,204.79 L701.89,207.75 L702.14,210.72 L702.40,213.70 L702.40,430.60 Z" fill="#a1b4fe"/>
<line x1="49.15" y1="56.2" x2="49.15" y2="464.4" stroke="#000" stroke-width="1.6"/>
<line x1="743" y1="56.2" x2="743" y2="464.4" stroke="#1a1a1a" stroke-width="2"/>
<line x1="42" y1="463.62" x2="49.5" y2="463.62" stroke="#2a2a2a" stroke-width="0.9"/>
<text x="35.3" y="468.22" class="ax" text-anchor="end">–1 m</text>
<line x1="45.5" y1="434.56" x2="49.5" y2="434.56" stroke="#2a2a2a" stroke-width="0.9"/>
<line x1="42" y1="405.50" x2="49.5" y2="405.50" stroke="#2a2a2a" stroke-width="0.9"/>
<text x="35.3" y="410.10" class="ax" text-anchor="end">0 m</text>
<line x1="45.5" y1="376.44" x2="49.5" y2="376.44" stroke="#2a2a2a" stroke-width="0.9"/>
<line x1="42" y1="347.38" x2="49.5" y2="347.38" stroke="#2a2a2a" stroke-width="0.9"/>
<text x="35.3" y="351.98" class="ax" text-anchor="end">1 m</text>
<line x1="45.5" y1="318.32" x2="49.5" y2="318.32" stroke="#2a2a2a" stroke-width="0.9"/>
<line x1="42" y1="289.26" x2="49.5" y2="289.26" stroke="#2a2a2a" stroke-width="0.9"/>
<text x="35.3" y="293.86" class="ax" text-anchor="end">2 m</text>
<line x1="45.5" y1="260.20" x2="49.5" y2="260.20" stroke="#2a2a2a" stroke-width="0.9"/>
<line x1="42" y1="231.14" x2="49.5" y2="231.14" stroke="#2a2a2a" stroke-width="0.9"/>
<text x="35.3" y="235.74" class="ax" text-anchor="end">3 m</text>
<line x1="45.5" y1="202.08" x2="49.5" y2="202.08" stroke="#2a2a2a" stroke-width="0.9"/>
<line x1="42" y1="173.02" x2="49.5" y2="173.02" stroke="#2a2a2a" stroke-width="0.9"/>
<text x="35.3" y="177.62" class="ax" text-anchor="end">4 m</text>
<line x1="45.5" y1="143.96" x2="49.5" y2="143.96" stroke="#2a2a2a" stroke-width="0.9"/>
<line x1="42" y1="114.90" x2="49.5" y2="114.90" stroke="#2a2a2a" stroke-width="0.9"/>
<text x="35.3" y="119.50" class="ax" text-anchor="end">5 m</text>
<line x1="45.5" y1="85.84" x2="49.5" y2="85.84" stroke="#2a2a2a" stroke-width="0.9"/>
<line x1="42" y1="56.78" x2="49.5" y2="56.78" stroke="#2a2a2a" stroke-width="0.9"/>
<text x="35.3" y="61.38" class="ax" text-anchor="end">6 m</text>
<line x1="743" x2="746.5" y1="459.06" y2="459.06" stroke="#2a2a2a" stroke-width="0.9"/>
<line x1="743" x2="750" y1="441.36" y2="441.36" stroke="#2a2a2a" stroke-width="0.9"/>
<text x="780.5" y="445.96" class="ax" text-anchor="end">–2 ft</text>
<line x1="743" x2="746.5" y1="423.65" y2="423.65" stroke="#2a2a2a" stroke-width="0.9"/>
<line x1="743" x2="750" y1="405.95" y2="405.95" stroke="#2a2a2a" stroke-width="0.9"/>
<text x="780.5" y="410.55" class="ax" text-anchor="end">0 ft</text>
<line x1="743" x2="746.5" y1="388.25" y2="388.25" stroke="#2a2a2a" stroke-width="0.9"/>
<line x1="743" x2="750" y1="370.54" y2="370.54" stroke="#2a2a2a" stroke-width="0.9"/>
<text x="780.5" y="375.14" class="ax" text-anchor="end">2 ft</text>
<line x1="743" x2="746.5" y1="352.84" y2="352.84" stroke="#2a2a2a" stroke-width="0.9"/>
<line x1="743" x2="750" y1="335.14" y2="335.14" stroke="#2a2a2a" stroke-width="0.9"/>
<text x="780.5" y="339.74" class="ax" text-anchor="end">4 ft</text>
<line x1="743" x2="746.5" y1="317.44" y2="317.44" stroke="#2a2a2a" stroke-width="0.9"/>
<line x1="743" x2="750" y1="299.73" y2="299.73" stroke="#2a2a2a" stroke-width="0.9"/>
<text x="780.5" y="304.33" class="ax" text-anchor="end">6 ft</text>
<line x1="743" x2="746.5" y1="282.03" y2="282.03" stroke="#2a2a2a" stroke-width="0.9"/>
<line x1="743" x2="750" y1="264.33" y2="264.33" stroke="#2a2a2a" stroke-width="0.9"/>
<text x="780.5" y="268.93" class="ax" text-anchor="end">8 ft</text>
<line x1="743" x2="746.5" y1="246.62" y2="246.62" stroke="#2a2a2a" stroke-width="0.9"/>
<line x1="743" x2="750" y1="228.92" y2="228.92" stroke="#2a2a2a" stroke-width="0.9"/>
<text x="780.5" y="233.52" class="ax" text-anchor="end">10 ft</text>
<line x1="743" x2="746.5" y1="211.22" y2="211.22" stroke="#2a2a2a" stroke-width="0.9"/>
<line x1="743" x2="750" y1="193.51" y2="193.51" stroke="#2a2a2a" stroke-width="0.9"/>
<text x="780.5" y="198.11" class="ax" text-anchor="end">12 ft</text>
<line x1="743" x2="746.5" y1="175.81" y2="175.81" stroke="#2a2a2a" stroke-width="0.9"/>
<line x1="743" x2="750" y1="158.11" y2="158.11" stroke="#2a2a2a" stroke-width="0.9"/>
<text x="780.5" y="162.71" class="ax" text-anchor="end">14 ft</text>
<line x1="743" x2="746.5" y1="140.40" y2="140.40" stroke="#2a2a2a" stroke-width="0.9"/>
<line x1="743" x2="750" y1="122.70" y2="122.70" stroke="#2a2a2a" stroke-width="0.9"/>
<text x="780.5" y="127.30" class="ax" text-anchor="end">16 ft</text>
<line x1="743" x2="746.5" y1="105.00" y2="105.00" stroke="#2a2a2a" stroke-width="0.9"/>
<line x1="743" x2="750" y1="87.30" y2="87.30" stroke="#2a2a2a" stroke-width="0.9"/>
<text x="780.5" y="91.90" class="ax" text-anchor="end">18 ft</text>
<line x1="743" x2="746.5" y1="69.59" y2="69.59" stroke="#2a2a2a" stroke-width="0.9"/>
<text x="83.55" y="39.7" class="day" text-anchor="middle">Tue</text>
<text x="83.55" y="51.6" class="day" text-anchor="middle">04–Jan</text>
<text x="160.11" y="39.7" class="day" text-anchor="middle">Wed</text>
<text x="160.11" y="51.6" class="day" text-anchor="middle">05–Jan</text>
<text x="236.67" y="39.7" class="day" text-anchor="middle">Thu</text>
<text x="236.67" y="51.6" class="day" text-anchor="middle">06–Jan</text>
<text x="313.23" y="39.7" class="day" text-anchor="middle">Fri</text>
<text x="313.23" y="51.6" class="day" text-anchor="middle">07–Jan</text>
<text x="389.79" y="39.7" class="day" text-anchor="middle">Sat</text>
<text x="389.79" y="51.6" class="day" text-anchor="middle">08–Jan</text>
<text x="466.35" y="39.7" class="day" text-anchor="middle">Sun</text>
<text x="466.35" y="51.6" class="day" text-anchor="middle">09–Jan</text>
<text x="542.91" y="39.7" class="day" text-anchor="middle">Mon</text>
<text x="542.91" y="51.6" class="day" text-anchor="middle">10–Jan</text>
<text x="619.47" y="39.7" class="day" text-anchor="middle">Tue</text>
<text x="619.47" y="51.6" class="day" text-anchor="middle">11–Jan</text>
<text x="696.03" y="39.7" class="day" text-anchor="middle">Wed</text>
<text x="696.03" y="51.6" class="day" text-anchor="middle">12–Jan</text>
<text transform="translate(102.42,108.77) scale(1,1.0)" class="tl" text-anchor="middle">5.04 m</text>
<text transform="translate(102.42,98.87) scale(1,1.0)" class="tl" text-anchor="middle">16.5 ft</text>
<text transform="translate(102.42,90.97) scale(1,1.0)" class="tl" text-anchor="middle">5:55 pm</text>
<circle cx="102.42" cy="112.27" r="1.6" fill="#000"/>
<text transform="translate(121.78,354.59) scale(1,1.0)" class="tl" text-anchor="middle">1.05 m</text>
<text transform="translate(121.78,364.59) scale(1,1.0)" class="tl" text-anchor="middle">3.4 ft</text>
<text transform="translate(121.78,374.29) scale(1,1.0)" class="tl" text-anchor="middle">11:59 pm</text>
<circle cx="121.78" cy="344.49" r="1.6" fill="#000"/>
<text transform="translate(141.66,92.48) scale(1,1.0)" class="tl" text-anchor="middle">5.32 m</text>
<text transform="translate(141.66,82.58) scale(1,1.0)" class="tl" text-anchor="middle">17.5 ft</text>
<text transform="translate(141.66,73.78) scale(1,1.0)" class="tl" text-anchor="middle">6:13 am</text>
<circle cx="141.66" cy="95.98" r="1.6" fill="#000"/>
<text transform="translate(161.33,361.57) scale(1,1.0)" class="tl" text-anchor="middle">0.93 m</text>
<text transform="translate(161.33,371.57) scale(1,1.0)" class="tl" text-anchor="middle">3.1 ft</text>
<text transform="translate(161.33,381.27) scale(1,1.0)" class="tl" text-anchor="middle">12:23 pm</text>
<circle cx="161.33" cy="351.47" r="1.6" fill="#000"/>
<text transform="translate(181.22,105.28) scale(1,1.0)" class="tl" text-anchor="middle">5.10 m</text>
<text transform="translate(181.22,95.38) scale(1,1.0)" class="tl" text-anchor="middle">16.7 ft</text>
<text transform="translate(181.22,87.48) scale(1,1.0)" class="tl" text-anchor="middle">6:37 pm</text>
<circle cx="181.22" cy="108.78" r="1.6" fill="#000"/>
<text transform="translate(200.41,358.08) scale(1,1.0)" class="tl" text-anchor="middle">0.99 m</text>
<text transform="translate(200.41,368.08) scale(1,1.0)" class="tl" text-anchor="middle">3.2 ft</text>
<text transform="translate(200.41,377.78) scale(1,1.0)" class="tl" text-anchor="middle">12:38 am</text>
<circle cx="200.41" cy="347.98" r="1.6" fill="#000"/>
<text transform="translate(220.35,88.98) scale(1,1.0)" class="tl" text-anchor="middle">5.38 m</text>
<text transform="translate(220.35,79.08) scale(1,1.0)" class="tl" text-anchor="middle">17.7 ft</text>
<text transform="translate(220.35,70.28) scale(1,1.0)" class="tl" text-anchor="middle">6:53 am</text>
<circle cx="220.35" cy="92.48" r="1.6" fill="#000"/>
<text transform="translate(239.91,363.32) scale(1,1.0)" class="tl" text-anchor="middle">0.90 m</text>
<text transform="translate(239.91,373.32) scale(1,1.0)" class="tl" text-anchor="middle">3.0 ft</text>
<text transform="translate(239.91,383.02) scale(1,1.0)" class="tl" text-anchor="middle">1:01 pm</text>
<circle cx="239.91" cy="353.22" r="1.6" fill="#000"/>
<text transform="translate(259.90,104.12) scale(1,1.0)" class="tl" text-anchor="middle">5.12 m</text>
<text transform="translate(259.90,94.22) scale(1,1.0)" class="tl" text-anchor="middle">16.8 ft</text>
<text transform="translate(259.90,86.32) scale(1,1.0)" class="tl" text-anchor="middle">7:17 pm</text>
<circle cx="259.90" cy="107.62" r="1.6" fill="#000"/>
<text transform="translate(278.94,356.92) scale(1,1.0)" class="tl" text-anchor="middle">1.01 m</text>
<text transform="translate(278.94,366.92) scale(1,1.0)" class="tl" text-anchor="middle">3.3 ft</text>
<text transform="translate(278.94,376.62) scale(1,1.0)" class="tl" text-anchor="middle">1:15 am</text>
<circle cx="278.94" cy="346.82" r="1.6" fill="#000"/>
<text transform="translate(298.93,88.98) scale(1,1.0)" class="tl" text-anchor="middle">5.38 m</text>
<text transform="translate(298.93,79.08) scale(1,1.0)" class="tl" text-anchor="middle">17.7 ft</text>
<text transform="translate(298.93,70.28) scale(1,1.0)" class="tl" text-anchor="middle">7:31 am</text>
<circle cx="298.93" cy="92.48" r="1.6" fill="#000"/>
<text transform="translate(318.44,359.25) scale(1,1.0)" class="tl" text-anchor="middle">0.97 m</text>
<text transform="translate(318.44,369.25) scale(1,1.0)" class="tl" text-anchor="middle">3.2 ft</text>
<text transform="translate(318.44,378.95) scale(1,1.0)" class="tl" text-anchor="middle">1:38 pm</text>
<circle cx="318.44" cy="349.15" r="1.6" fill="#000"/>
<text transform="translate(338.43,105.86) scale(1,1.0)" class="tl" text-anchor="middle">5.09 m</text>
<text transform="translate(338.43,95.96) scale(1,1.0)" class="tl" text-anchor="middle">16.7 ft</text>
<text transform="translate(338.43,88.06) scale(1,1.0)" class="tl" text-anchor="middle">7:54 pm</text>
<circle cx="338.43" cy="109.36" r="1.6" fill="#000"/>
<text transform="translate(357.36,351.10) scale(1,1.0)" class="tl" text-anchor="middle">1.11 m</text>
<text transform="translate(357.36,361.10) scale(1,1.0)" class="tl" text-anchor="middle">3.6 ft</text>
<text transform="translate(357.36,370.80) scale(1,1.0)" class="tl" text-anchor="middle">1:50 am</text>
<circle cx="357.36" cy="341.00" r="1.6" fill="#000"/>
<text transform="translate(377.46,92.48) scale(1,1.0)" class="tl" text-anchor="middle">5.32 m</text>
<text transform="translate(377.46,82.58) scale(1,1.0)" class="tl" text-anchor="middle">17.5 ft</text>
<text transform="translate(377.46,73.78) scale(1,1.0)" class="tl" text-anchor="middle">8:08 am</text>
<circle cx="377.46" cy="95.98" r="1.6" fill="#000"/>
<text transform="translate(396.86,351.10) scale(1,1.0)" class="tl" text-anchor="middle">1.11 m</text>
<text transform="translate(396.86,361.10) scale(1,1.0)" class="tl" text-anchor="middle">3.6 ft</text>
<text transform="translate(396.86,370.80) scale(1,1.0)" class="tl" text-anchor="middle">2:13 pm</text>
<text transform="translate(416.91,109.94) scale(1,1.0)" class="tl" text-anchor="middle">5.02 m</text>
<text transform="translate(416.91,100.04) scale(1,1.0)" class="tl" text-anchor="middle">16.5 ft</text>
<text transform="translate(416.91,92.14) scale(1,1.0)" class="tl" text-anchor="middle">8:30 pm</text>
<circle cx="416.91" cy="113.44" r="1.6" fill="#000"/>
<text transform="translate(435.78,341.20) scale(1,1.0)" class="tl" text-anchor="middle">1.28 m</text>
<text transform="translate(435.78,351.20) scale(1,1.0)" class="tl" text-anchor="middle">4.2 ft</text>
<text transform="translate(435.78,360.90) scale(1,1.0)" class="tl" text-anchor="middle">2:25 am</text>
<circle cx="435.78" cy="331.10" r="1.6" fill="#000"/>
<text transform="translate(455.88,98.88) scale(1,1.0)" class="tl" text-anchor="middle">5.21 m</text>
<text transform="translate(455.88,88.98) scale(1,1.0)" class="tl" text-anchor="middle">17.1 ft</text>
<text transform="translate(455.88,80.18) scale(1,1.0)" class="tl" text-anchor="middle">8:43 am</text>
<circle cx="455.88" cy="102.38" r="1.6" fill="#000"/>
<text transform="translate(475.28,339.46) scale(1,1.0)" class="tl" text-anchor="middle">1.31 m</text>
<text transform="translate(475.28,349.46) scale(1,1.0)" class="tl" text-anchor="middle">4.3 ft</text>
<text transform="translate(475.28,359.16) scale(1,1.0)" class="tl" text-anchor="middle">2:48 pm</text>
<circle cx="475.28" cy="329.36" r="1.6" fill="#000"/>
<text transform="translate(495.33,116.34) scale(1,1.0)" class="tl" text-anchor="middle">4.91 m</text>
<text transform="translate(495.33,106.44) scale(1,1.0)" class="tl" text-anchor="middle">16.1 ft</text>
<text transform="translate(495.33,98.54) scale(1,1.0)" class="tl" text-anchor="middle">9:05 pm</text>
<circle cx="495.33" cy="119.84" r="1.6" fill="#000"/>
<text transform="translate(514.15,328.98) scale(1,1.0)" class="tl" text-anchor="middle">1.49 m</text>
<text transform="translate(514.15,338.98) scale(1,1.0)" class="tl" text-anchor="middle">4.9 ft</text>
<text transform="translate(514.15,348.68) scale(1,1.0)" class="tl" text-anchor="middle">2:59 am</text>
<circle cx="514.15" cy="318.88" r="1.6" fill="#000"/>
<text transform="translate(534.30,108.19) scale(1,1.0)" class="tl" text-anchor="middle">5.05 m</text>
<text transform="translate(534.30,98.29) scale(1,1.0)" class="tl" text-anchor="middle">16.6 ft</text>
<text transform="translate(534.30,89.49) scale(1,1.0)" class="tl" text-anchor="middle">9:18 am</text>
<circle cx="534.30" cy="111.69" r="1.6" fill="#000"/>
<text transform="translate(553.70,326.07) scale(1,1.0)" class="tl" text-anchor="middle">1.54 m</text>
<text transform="translate(553.70,336.07) scale(1,1.0)" class="tl" text-anchor="middle">5.1 ft</text>
<text transform="translate(553.70,345.77) scale(1,1.0)" class="tl" text-anchor="middle">3:23 pm</text>
<circle cx="553.70" cy="315.97" r="1.6" fill="#000"/>
<text transform="translate(573.80,125.07) scale(1,1.0)" class="tl" text-anchor="middle">4.76 m</text>
<text transform="translate(573.80,115.17) scale(1,1.0)" class="tl" text-anchor="middle">15.6 ft</text>
<text transform="translate(573.80,107.27) scale(1,1.0)" class="tl" text-anchor="middle">9:41 pm</text>
<circle cx="573.80" cy="128.57" r="1.6" fill="#000"/>
<text transform="translate(592.62,314.43) scale(1,1.0)" class="tl" text-anchor="middle">1.74 m</text>
<text transform="translate(592.62,324.43) scale(1,1.0)" class="tl" text-anchor="middle">5.7 ft</text>
<text transform="translate(592.62,334.13) scale(1,1.0)" class="tl" text-anchor="middle">3:35 am</text>
<circle cx="592.62" cy="304.33" r="1.6" fill="#000"/>
<text transform="translate(612.82,119.83) scale(1,1.0)" class="tl" text-anchor="middle">4.85 m</text>
<text transform="translate(612.82,109.93) scale(1,1.0)" class="tl" text-anchor="middle">15.9 ft</text>
<text transform="translate(612.82,101.13) scale(1,1.0)" class="tl" text-anchor="middle">9:55 am</text>
<circle cx="612.82" cy="123.33" r="1.6" fill="#000"/>
<text transform="translate(632.28,311.52) scale(1,1.0)" class="tl" text-anchor="middle">1.79 m</text>
<text transform="translate(632.28,321.52) scale(1,1.0)" class="tl" text-anchor="middle">5.9 ft</text>
<text transform="translate(632.28,331.22) scale(1,1.0)" class="tl" text-anchor="middle">4:01 pm</text>
<circle cx="632.28" cy="301.42" r="1.6" fill="#000"/>
<text transform="translate(652.38,134.96) scale(1,1.0)" class="tl" text-anchor="middle">4.59 m</text>
<text transform="translate(652.38,125.06) scale(1,1.0)" class="tl" text-anchor="middle">15.1 ft</text>
<text transform="translate(652.38,117.16) scale(1,1.0)" class="tl" text-anchor="middle">10:19 pm</text>
<circle cx="652.38" cy="138.46" r="1.6" fill="#000"/>
<text transform="translate(671.31,299.88) scale(1,1.0)" class="tl" text-anchor="middle">1.99 m</text>
<text transform="translate(671.31,309.88) scale(1,1.0)" class="tl" text-anchor="middle">6.5 ft</text>
<text transform="translate(671.31,319.58) scale(1,1.0)" class="tl" text-anchor="middle">4:15 am</text>
<circle cx="671.31" cy="289.78" r="1.6" fill="#000"/>
<text transform="translate(691.51,132.63) scale(1,1.0)" class="tl" text-anchor="middle">4.63 m</text>
<text transform="translate(691.51,122.73) scale(1,1.0)" class="tl" text-anchor="middle">15.2 ft</text>
<text transform="translate(691.51,113.93) scale(1,1.0)" class="tl" text-anchor="middle">10:35 am</text>
<circle cx="691.51" cy="136.13" r="1.6" fill="#000"/>
<circle cx="397.2" cy="341.2" r="5.3" fill="#ece552" stroke="#6b5a10" stroke-width="0.7"/><circle cx="397.2" cy="341.2" r="1.8" fill="#000"/>
<polygon points="148.20,467.60 149.58,471.39 146.82,471.39" fill="#7a5a1c"/><polygon points="154.76,472.37 151.58,474.86 150.73,472.22" fill="#7a5a1c"/><polygon points="152.26,480.08 148.91,477.83 151.15,476.20" fill="#7a5a1c"/><polygon points="144.14,480.08 145.26,476.20 147.49,477.83" fill="#7a5a1c"/><polygon points="141.64,472.37 145.67,472.22 144.82,474.86" fill="#7a5a1c"/><circle cx="148.20" cy="474.50" r="4.15" fill="#b4b446" stroke="#7a5a1c" stroke-width="0.8"/>
<text transform="translate(155.40,478.00) scale(1,1.0)" class="ev">8:16am</text>
<polygon points="224.76,467.60 226.14,471.39 223.38,471.39" fill="#7a5a1c"/><polygon points="231.32,472.37 228.14,474.86 227.29,472.22" fill="#7a5a1c"/><polygon points="228.82,480.08 225.47,477.83 227.71,476.20" fill="#7a5a1c"/><polygon points="220.70,480.08 221.82,476.20 224.05,477.83" fill="#7a5a1c"/><polygon points="218.20,472.37 222.23,472.22 221.38,474.86" fill="#7a5a1c"/><circle cx="224.76" cy="474.50" r="4.15" fill="#b4b446" stroke="#7a5a1c" stroke-width="0.8"/>
<text transform="translate(231.96,478.00) scale(1,1.0)" class="ev">8:16am</text>
<polygon points="301.27,467.60 302.65,471.39 299.88,471.39" fill="#7a5a1c"/><polygon points="307.83,472.37 304.65,474.86 303.79,472.22" fill="#7a5a1c"/><polygon points="305.32,480.08 301.97,477.83 304.21,476.20" fill="#7a5a1c"/><polygon points="297.21,480.08 298.32,476.20 300.56,477.83" fill="#7a5a1c"/><polygon points="294.71,472.37 298.74,472.22 297.89,474.86" fill="#7a5a1c"/><circle cx="301.27" cy="474.50" r="4.15" fill="#b4b446" stroke="#7a5a1c" stroke-width="0.8"/>
<text transform="translate(308.47,478.00) scale(1,1.0)" class="ev">8:15am</text>
<polygon points="377.83,467.60 379.21,471.39 376.44,471.39" fill="#7a5a1c"/><polygon points="384.39,472.37 381.21,474.86 380.35,472.22" fill="#7a5a1c"/><polygon points="381.88,480.08 378.53,477.83 380.77,476.20" fill="#7a5a1c"/><polygon points="373.77,480.08 374.88,476.20 377.12,477.83" fill="#7a5a1c"/><polygon points="371.27,472.37 375.30,472.22 374.45,474.86" fill="#7a5a1c"/><circle cx="377.83" cy="474.50" r="4.15" fill="#b4b446" stroke="#7a5a1c" stroke-width="0.8"/>
<text transform="translate(385.03,478.00) scale(1,1.0)" class="ev">8:15am</text>
<polygon points="454.33,467.60 455.72,471.39 452.95,471.39" fill="#7a5a1c"/><polygon points="460.90,472.37 457.72,474.86 456.86,472.22" fill="#7a5a1c"/><polygon points="458.39,480.08 455.04,477.83 457.28,476.20" fill="#7a5a1c"/><polygon points="450.28,480.08 451.39,476.20 453.63,477.83" fill="#7a5a1c"/><polygon points="447.77,472.37 451.81,472.22 450.95,474.86" fill="#7a5a1c"/><circle cx="454.33" cy="474.50" r="4.15" fill="#b4b446" stroke="#7a5a1c" stroke-width="0.8"/>
<text transform="translate(461.53,478.00) scale(1,1.0)" class="ev">8:14am</text>
<polygon points="530.89,467.60 532.28,471.39 529.51,471.39" fill="#7a5a1c"/><polygon points="537.46,472.37 534.28,474.86 533.42,472.22" fill="#7a5a1c"/><polygon points="534.95,480.08 531.60,477.83 533.84,476.20" fill="#7a5a1c"/><polygon points="526.84,480.08 527.95,476.20 530.19,477.83" fill="#7a5a1c"/><polygon points="524.33,472.37 528.37,472.22 527.51,474.86" fill="#7a5a1c"/><circle cx="530.89" cy="474.50" r="4.15" fill="#b4b446" stroke="#7a5a1c" stroke-width="0.8"/>
<text transform="translate(538.09,478.00) scale(1,1.0)" class="ev">8:14am</text>
<polygon points="607.40,467.60 608.78,471.39 606.02,471.39" fill="#7a5a1c"/><polygon points="613.96,472.37 610.78,474.86 609.93,472.22" fill="#7a5a1c"/><polygon points="611.46,480.08 608.11,477.83 610.35,476.20" fill="#7a5a1c"/><polygon points="603.35,480.08 604.46,476.20 606.69,477.83" fill="#7a5a1c"/><polygon points="600.84,472.37 604.87,472.22 604.02,474.86" fill="#7a5a1c"/><circle cx="607.40" cy="474.50" r="4.15" fill="#b4b446" stroke="#7a5a1c" stroke-width="0.8"/>
<text transform="translate(614.60,478.00) scale(1,1.0)" class="ev">8:13am</text>
<polygon points="683.96,467.60 685.34,471.39 682.58,471.39" fill="#7a5a1c"/><polygon points="690.52,472.37 687.34,474.86 686.49,472.22" fill="#7a5a1c"/><polygon points="688.02,480.08 684.67,477.83 686.91,476.20" fill="#7a5a1c"/><polygon points="679.91,480.08 681.02,476.20 683.25,477.83" fill="#7a5a1c"/><polygon points="677.40,472.37 681.43,472.22 680.58,474.86" fill="#7a5a1c"/><circle cx="683.96" cy="474.50" r="4.15" fill="#b4b446" stroke="#7a5a1c" stroke-width="0.8"/>
<text transform="translate(691.16,478.00) scale(1,1.0)" class="ev">8:13am</text>
<polygon points="174.36,481.40 175.74,485.19 172.98,485.19" fill="#7a5a1c"/><polygon points="180.92,486.17 177.74,488.66 176.89,486.02" fill="#7a5a1c"/><polygon points="178.41,493.88 175.07,491.63 177.30,490.00" fill="#7a5a1c"/><polygon points="170.30,493.88 171.41,490.00 173.65,491.63" fill="#7a5a1c"/><polygon points="167.80,486.17 171.83,486.02 170.98,488.66" fill="#7a5a1c"/><circle cx="174.36" cy="488.30" r="4.15" fill="#de8030" stroke="#7a5a1c" stroke-width="0.8"/>
<text transform="translate(181.56,492.30) scale(1,1.0)" class="ev">4:28pm</text>
<polygon points="250.97,481.40 252.35,485.19 249.59,485.19" fill="#7a5a1c"/><polygon points="257.53,486.17 254.35,488.66 253.50,486.02" fill="#7a5a1c"/><polygon points="255.03,493.88 251.68,491.63 253.92,490.00" fill="#7a5a1c"/><polygon points="246.92,493.88 248.03,490.00 250.26,491.63" fill="#7a5a1c"/><polygon points="244.41,486.17 248.45,486.02 247.59,488.66" fill="#7a5a1c"/><circle cx="250.97" cy="488.30" r="4.15" fill="#de8030" stroke="#7a5a1c" stroke-width="0.8"/>
<text transform="translate(258.17,492.30) scale(1,1.0)" class="ev">4:29pm</text>
<polygon points="327.58,481.40 328.97,485.19 326.20,485.19" fill="#7a5a1c"/><polygon points="334.15,486.17 330.97,488.66 330.11,486.02" fill="#7a5a1c"/><polygon points="331.64,493.88 328.29,491.63 330.53,490.00" fill="#7a5a1c"/><polygon points="323.53,493.88 324.64,490.00 326.88,491.63" fill="#7a5a1c"/><polygon points="321.02,486.17 325.06,486.02 324.20,488.66" fill="#7a5a1c"/><circle cx="327.58" cy="488.30" r="4.15" fill="#de8030" stroke="#7a5a1c" stroke-width="0.8"/>
<text transform="translate(334.78,492.30) scale(1,1.0)" class="ev">4:30pm</text>
<polygon points="404.20,481.40 405.58,485.19 402.82,485.19" fill="#7a5a1c"/><polygon points="410.76,486.17 407.58,488.66 406.72,486.02" fill="#7a5a1c"/><polygon points="408.25,493.88 404.91,491.63 407.14,490.00" fill="#7a5a1c"/><polygon points="400.14,493.88 401.25,490.00 403.49,491.63" fill="#7a5a1c"/><polygon points="397.64,486.17 401.67,486.02 400.82,488.66" fill="#7a5a1c"/><circle cx="404.20" cy="488.30" r="4.15" fill="#de8030" stroke="#7a5a1c" stroke-width="0.8"/>
<text transform="translate(411.40,492.30) scale(1,1.0)" class="ev">4:31pm</text>
<polygon points="480.81,481.40 482.19,485.19 479.43,485.19" fill="#7a5a1c"/><polygon points="487.37,486.17 484.19,488.66 483.34,486.02" fill="#7a5a1c"/><polygon points="484.87,493.88 481.52,491.63 483.76,490.00" fill="#7a5a1c"/><polygon points="476.76,493.88 477.87,490.00 480.10,491.63" fill="#7a5a1c"/><polygon points="474.25,486.17 478.28,486.02 477.43,488.66" fill="#7a5a1c"/><circle cx="480.81" cy="488.30" r="4.15" fill="#de8030" stroke="#7a5a1c" stroke-width="0.8"/>
<text transform="translate(488.01,492.30) scale(1,1.0)" class="ev">4:32pm</text>
<polygon points="557.48,481.40 558.86,485.19 556.09,485.19" fill="#7a5a1c"/><polygon points="564.04,486.17 560.86,488.66 560.00,486.02" fill="#7a5a1c"/><polygon points="561.53,493.88 558.18,491.63 560.42,490.00" fill="#7a5a1c"/><polygon points="553.42,493.88 554.53,490.00 556.77,491.63" fill="#7a5a1c"/><polygon points="550.92,486.17 554.95,486.02 554.10,488.66" fill="#7a5a1c"/><circle cx="557.48" cy="488.30" r="4.15" fill="#de8030" stroke="#7a5a1c" stroke-width="0.8"/>
<text transform="translate(564.68,492.30) scale(1,1.0)" class="ev">4:34pm</text>
<polygon points="634.09,481.40 635.47,485.19 632.71,485.19" fill="#7a5a1c"/><polygon points="640.65,486.17 637.47,488.66 636.62,486.02" fill="#7a5a1c"/><polygon points="638.15,493.88 634.80,491.63 637.04,490.00" fill="#7a5a1c"/><polygon points="630.04,493.88 631.15,490.00 633.38,491.63" fill="#7a5a1c"/><polygon points="627.53,486.17 631.56,486.02 630.71,488.66" fill="#7a5a1c"/><circle cx="634.09" cy="488.30" r="4.15" fill="#de8030" stroke="#7a5a1c" stroke-width="0.8"/>
<text transform="translate(641.29,492.30) scale(1,1.0)" class="ev">4:35pm</text>
<circle cx="149.85" cy="502.1" r="5.0" fill="#ffffc8" stroke="#8a8a80" stroke-width="0.8"/>
<text transform="translate(157.65,505.10) scale(1,1.0)" class="ev">8:47am</text>
<circle cx="227.74" cy="502.1" r="5.0" fill="#ffffc8" stroke="#8a8a80" stroke-width="0.8"/>
<text transform="translate(235.54,505.10) scale(1,1.0)" class="ev">9:12am</text>
<circle cx="305.36" cy="502.1" r="5.0" fill="#ffffc8" stroke="#8a8a80" stroke-width="0.8"/>
<text transform="translate(313.16,505.10) scale(1,1.0)" class="ev">9:32am</text>
<circle cx="382.88" cy="502.1" r="5.0" fill="#ffffc8" stroke="#8a8a80" stroke-width="0.8"/>
<text transform="translate(390.68,505.10) scale(1,1.0)" class="ev">9:50am</text>
<circle cx="460.29" cy="502.1" r="5.0" fill="#ffffc8" stroke="#8a8a80" stroke-width="0.8"/>
<text transform="translate(468.09,505.10) scale(1,1.0)" class="ev">10:06am</text>
<circle cx="537.70" cy="502.1" r="5.0" fill="#ffffc8" stroke="#8a8a80" stroke-width="0.8"/>
<text transform="translate(545.50,505.10) scale(1,1.0)" class="ev">10:22am</text>
<circle cx="615.16" cy="502.1" r="5.0" fill="#ffffc8" stroke="#8a8a80" stroke-width="0.8"/>
<text transform="translate(622.96,505.10) scale(1,1.0)" class="ev">10:39am</text>
<circle cx="692.73" cy="502.1" r="5.0" fill="#ffffc8" stroke="#8a8a80" stroke-width="0.8"/>
<text transform="translate(700.53,505.10) scale(1,1.0)" class="ev">10:58am</text>
<circle cx="98.76" cy="515.9" r="5.0" fill="#c8c8b0" stroke="#80807a" stroke-width="0.8"/>
<text transform="translate(106.56,519.80) scale(1,1.0)" class="ev">4:46pm</text>
<circle cx="179.04" cy="515.9" r="5.0" fill="#c8c8b0" stroke="#80807a" stroke-width="0.8"/>
<text transform="translate(186.84,519.80) scale(1,1.0)" class="ev">5:56pm</text>
<circle cx="259.32" cy="515.9" r="5.0" fill="#c8c8b0" stroke="#80807a" stroke-width="0.8"/>
<text transform="translate(267.12,519.80) scale(1,1.0)" class="ev">7:06pm</text>
<circle cx="339.55" cy="515.9" r="5.0" fill="#c8c8b0" stroke="#80807a" stroke-width="0.8"/>
<text transform="translate(347.35,519.80) scale(1,1.0)" class="ev">8:15pm</text>
<circle cx="419.67" cy="515.9" r="5.0" fill="#c8c8b0" stroke="#80807a" stroke-width="0.8"/>
<text transform="translate(427.47,519.80) scale(1,1.0)" class="ev">9:22pm</text>
<circle cx="499.69" cy="515.9" r="5.0" fill="#c8c8b0" stroke="#80807a" stroke-width="0.8"/>
<text transform="translate(507.49,519.80) scale(1,1.0)" class="ev">10:27pm</text>
<circle cx="579.75" cy="515.9" r="5.0" fill="#c8c8b0" stroke="#80807a" stroke-width="0.8"/>
<text transform="translate(587.55,519.80) scale(1,1.0)" class="ev">11:33pm</text>
<circle cx="659.82" cy="515.9" r="5.0" fill="#c8c8b0" stroke="#80807a" stroke-width="0.8"/>
<text transform="translate(667.62,519.80) scale(1,1.0)" class="ev">12:39am</text>
<text x="45.4" y="478.6" class="rl" text-anchor="end">Sunrise</text>
<text x="746.8" y="478.6" class="rl">Sunrise</text>
<text x="45.4" y="492.4" class="rl" text-anchor="end">Sunset</text>
<text x="746.8" y="492.4" class="rl">Sunset</text>
<text x="45.4" y="505.9" class="rl" text-anchor="end">Moonrise</text>
<text x="746.8" y="505.9" class="rl">Moonrise</text>
<text x="45.4" y="519.4" class="rl" text-anchor="end">Moonset</text>
<text x="746.8" y="519.4" class="rl">Moonset</text>
<text transform="translate(734.50,532.60) scale(1,1.0)" class="fq" text-anchor="end">First Quarter | 11:33am</text>
<text x="229.9" y="13.4" class="title" textLength="333.3" lengthAdjust="spacingAndGlyphs">Wembury: at low  ordinary tide at 1.1m (3.6ft)</text>
<text x="215.0" y="27.7" class="sub" textLength="363.2" lengthAdjust="spacingAndGlyphs">Image captured 6 minutes after low water. Times are GMT (UTC +0hrs)</text>
</svg>
</body></html>
